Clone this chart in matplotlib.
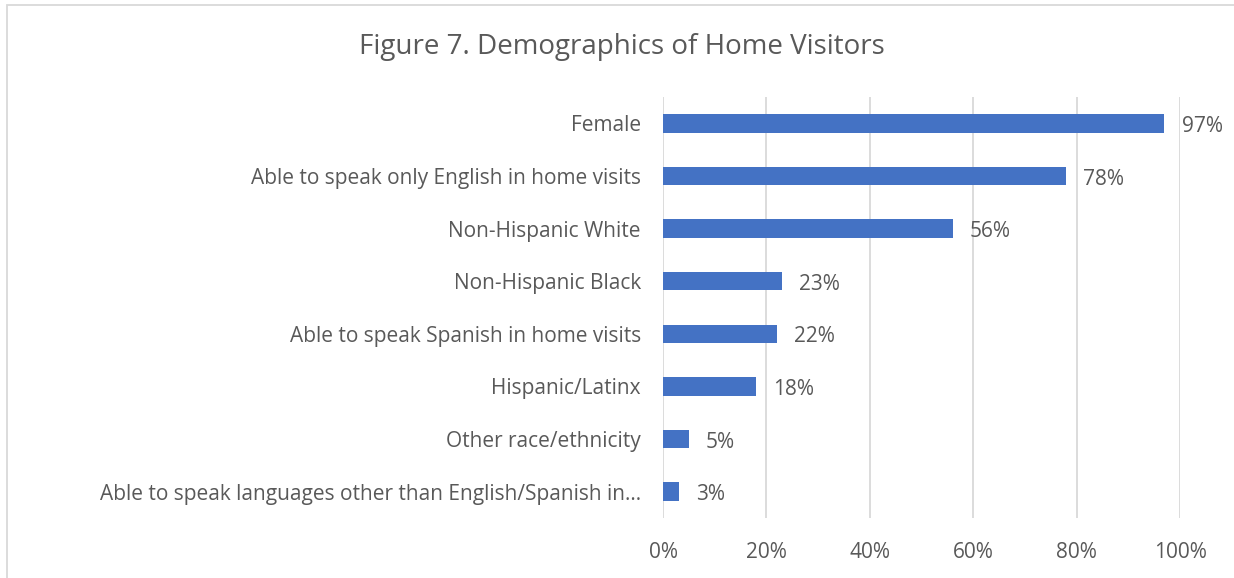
import matplotlib.pyplot as plt
from matplotlib.patches import Rectangle

categories = [
    "Female",
    "Able to speak only English in home visits",
    "Non-Hispanic White",
    "Non-Hispanic Black",
    "Able to speak Spanish in home visits",
    "Hispanic/Latinx",
    "Other race/ethnicity",
    "Able to speak languages other than English/Spanish in\u2026",
]
values = [97, 78, 56, 23, 22, 18, 5, 3]
ticks = [0, 20, 40, 60, 80, 100]

BAR = "#4472C4"
TEXT = "#595959"
GRID = "#D9D9D9"

plt.rcParams['font.family'] = ['Open Sans', 'DejaVu Sans']


def main():
    fig = plt.figure(figsize=(12.34, 5.78), dpi=100)
    ax = fig.add_axes([663 / 1234, 60 / 578, 517 / 1234, 421 / 578])

    y = list(range(len(categories)))[::-1]
    ax.barh(y, values, height=0.35, color=BAR, zorder=3)
    for yi, v in zip(y, values):
        ax.text(v + 3.3, yi - 0.06, "{}%".format(v), va='center', ha='left',
                fontsize=15, color=TEXT)

    ax.set_xlim(0, 100)
    ax.set_ylim(-0.5, len(categories) - 0.5)
    ax.set_xticks(ticks)
    ax.set_xticklabels(["{}%".format(t) for t in ticks])
    ax.set_yticks(y)
    ax.set_yticklabels(categories)
    ax.tick_params(axis='both', length=0, labelsize=15, labelcolor=TEXT)
    ax.tick_params(axis='x', pad=17)
    ax.tick_params(axis='y', pad=16)
    ax.grid(axis='x', color=GRID, linewidth=1.3, zorder=0)
    for s in ax.spines.values():
        s.set_visible(False)

    fig.text(622 / 1234, 1 - 47 / 578, "Figure 7. Demographics of Home Visitors",
             ha='center', va='center', fontsize=20, color=TEXT)

    # light frame around the chart area
    fig.patches.append(Rectangle((7 / 1234, -0.1), 1.1, 1 - 5 / 578 + 0.1,
                                 transform=fig.transFigure, fill=False,
                                 edgecolor=GRID, linewidth=1.3))

    fig.savefig('out.png', dpi=100)


if __name__ == '__main__':
    main()
